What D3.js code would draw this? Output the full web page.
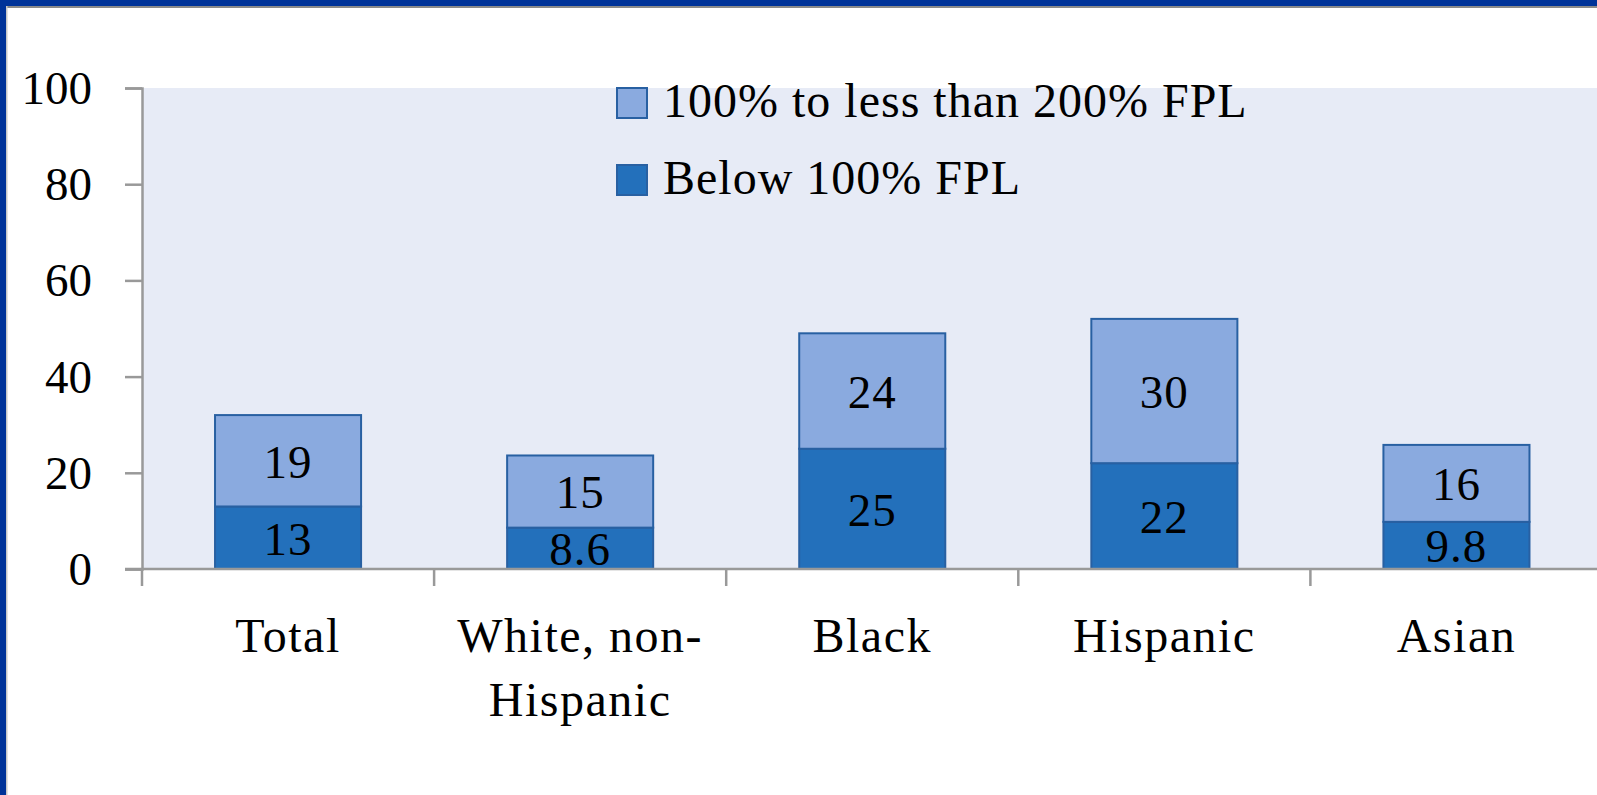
<!DOCTYPE html>
<html>
<head>
<meta charset="utf-8">
<script src="https://cdn.jsdelivr.net/npm/d3@7"></script>
<style>
  html, body { margin: 0; padding: 0; background: #fff; }
  svg { display: block; }
  text { font-family: "Liberation Serif", "DejaVu Serif", serif; fill: #000; }
</style>
</head>
<body>
<svg id="chart" width="1597" height="795"></svg>
<script>
// Share of children by family income, by race/ethnicity (percent)
const categories = ["Total", "White, non-Hispanic", "Black", "Hispanic", "Asian"];
const categoryLines = [["Total"], ["White, non-", "Hispanic"], ["Black"], ["Hispanic"], ["Asian"]];
const below100 = [13, 8.6, 25, 22, 9.8];
const from100to200 = [19, 15, 24, 30, 16];
const seriesNames = ["Below 100% FPL", "100% to less than 200% FPL"];
const yTicks = [0, 20, 40, 60, 80, 100];

const W = 1597, H = 795;
const svg = d3.select("#chart");

svg.append("rect").attr("x", 0).attr("y", 0).attr("width", W).attr("height", H).attr("fill", "#fff");

const plot = { left: 142, top: 88, bottom: 569 };
const step = 292.1;
const plotRight = plot.left + step * categories.length;

const x = d3.scaleBand().domain(categories).range([plot.left, plotRight]).paddingInner(0.5).paddingOuter(0.25);
const y = d3.scaleLinear().domain([0, 100]).range([plot.bottom, plot.top]);

const colors = { dark: "#2370BB", light: "#8AAADF", stroke: "#2860A2" };

// plot background
svg.append("rect")
  .attr("x", plot.left).attr("y", plot.top)
  .attr("width", plotRight - plot.left).attr("height", plot.bottom - plot.top)
  .attr("fill", "#E7EBF6");

// stacked data
const rows = categories.map((c, i) => ({ cat: c, below: below100[i], mid: from100to200[i] }));
const stack = d3.stack().keys(["below", "mid"])(rows);
const fillFor = { below: colors.dark, mid: colors.light };

const layers = svg.append("g").selectAll("g").data(stack).join("g")
  .attr("fill", d => fillFor[d.key]);

layers.selectAll("rect").data(d => d).join("rect")
  .attr("x", d => x(d.data.cat))
  .attr("y", d => y(d[1]))
  .attr("width", x.bandwidth())
  .attr("height", d => y(d[0]) - y(d[1]))
  .attr("stroke", colors.stroke)
  .attr("stroke-width", 2);

// value labels
const fmt = v => String(v);
layers.selectAll("text").data(d => d.map(p => ({ p, key: d.key }))).join("text")
  .attr("x", d => x(d.p.data.cat) + x.bandwidth() / 2)
  .attr("y", d => (y(d.p[0]) + y(d.p[1])) / 2)
  .attr("dy", "0.36em")
  .attr("text-anchor", "middle")
  .attr("font-size", 47)
  .attr("letter-spacing", 1)
  .text(d => fmt(d.p.data[d.key]));

// y axis
const yAxis = d3.axisLeft(y).tickValues(yTicks).tickSize(17).tickPadding(33);
const gy = svg.append("g").attr("transform", `translate(${plot.left},0)`).call(yAxis);
gy.select(".domain").attr("stroke", "#999").attr("stroke-width", 2.5);
gy.selectAll(".tick line").attr("stroke", "#999").attr("stroke-width", 2.5);
gy.selectAll(".tick text").attr("font-size", 47).attr("font-family", "Liberation Serif, serif").attr("fill", "#000").attr("dy", "0.33em");

// x axis: baseline with boundary ticks
const gx = svg.append("g");
gx.append("line").attr("x1", plot.left - 17).attr("x2", plotRight)
  .attr("y1", plot.bottom).attr("y2", plot.bottom)
  .attr("stroke", "#999").attr("stroke-width", 2.5);
gx.selectAll("line.b").data(d3.range(categories.length)).join("line")
  .attr("class", "b")
  .attr("x1", i => x(categories[i]) - x.step() * 0.25)
  .attr("x2", i => x(categories[i]) - x.step() * 0.25)
  .attr("y1", plot.bottom).attr("y2", plot.bottom + 17)
  .attr("stroke", "#999").attr("stroke-width", 2.5);

// category labels
const catText = gx.selectAll("text.cat").data(categories).join("text")
  .attr("class", "cat")
  .attr("text-anchor", "middle")
  .attr("font-size", 48)
  .attr("letter-spacing", 1.5)
  .attr("y", 652);
catText.selectAll("tspan").data((d, i) => categoryLines[i].map(t => ({ t, c: d }))).join("tspan")
  .attr("x", d => x(d.c) + x.bandwidth() / 2)
  .attr("dy", (d, i) => i === 0 ? 0 : 64)
  .text(d => d.t);

// legend
const legendItems = [
  { name: seriesNames[1], color: colors.light },
  { name: seriesNames[0], color: colors.dark }
];
const lg = svg.append("g").selectAll("g").data(legendItems).join("g")
  .attr("transform", (d, i) => `translate(617,${88 + i * 77})`);
lg.append("rect").attr("width", 30).attr("height", 30)
  .attr("fill", d => d.color).attr("stroke", colors.stroke).attr("stroke-width", 2);
lg.append("text").attr("x", 46).attr("y", 29).attr("font-size", 48)
  .attr("letter-spacing", 1).text(d => d.name);

// outer frame: blue band along top and left edges
svg.append("rect").attr("x", 0).attr("y", 0).attr("width", W).attr("height", 6).attr("fill", "#003399");
svg.append("rect").attr("x", 6).attr("y", 6).attr("width", W).attr("height", 2).attr("fill", "#8a8a8a");
svg.append("rect").attr("x", 0).attr("y", 0).attr("width", 6).attr("height", H).attr("fill", "#003399");
svg.append("rect").attr("x", 6).attr("y", 6).attr("width", 1.5).attr("height", H).attr("fill", "#c8c8c8");
</script>
</body>
</html>
